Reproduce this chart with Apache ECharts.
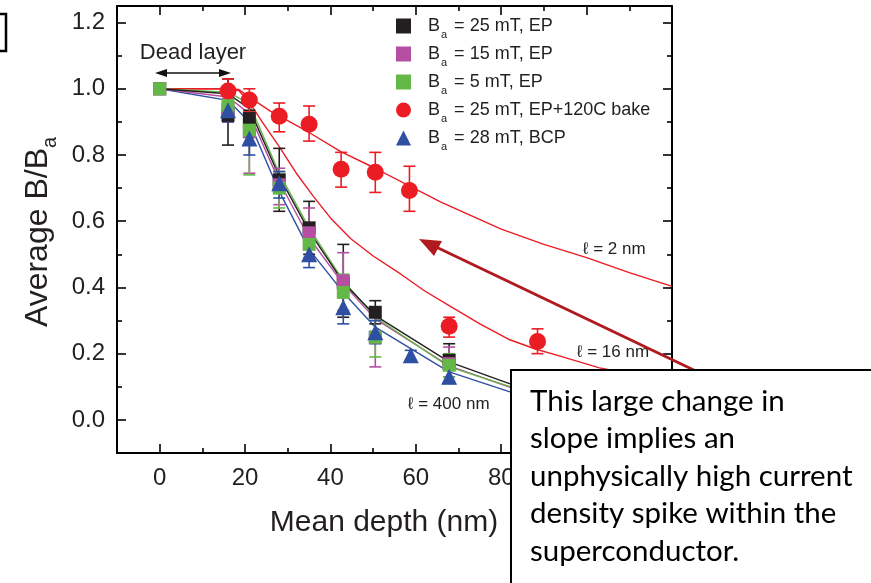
<!DOCTYPE html>
<html><head><meta charset="utf-8">
<script src="https://cdn.jsdelivr.net/npm/echarts@6/dist/echarts.min.js"></script>
<style>html,body{margin:0;padding:0;background:#fff}#c{width:871px;height:583px}</style>
</head><body><div id="c"></div>
<script>
// ---- axes ----
const xMajorTicks = [0, 20, 40, 60, 80, 100, 120];
const xMinorTicks = [10, 30, 50, 70, 90, 110];
const yMajorTicks = [0, 0.2, 0.4, 0.6, 0.8, 1.0, 1.2];
const yMinorTicks = [0.1, 0.3, 0.5, 0.7, 0.9, 1.1];

// ---- measured data ----
const depthEP = [0, 16, 21, 28, 35, 43, 50.5, 67.8];
const ep25 = [1.0, 0.92, 0.91, 0.725, 0.58, 0.415, 0.325, 0.18];
const ep25Lo = [null, 0.83, 0.885, 0.63, 0.50, 0.31, 0.29, 0.15];
const ep25Hi = [null, 1.03, 0.935, 0.82, 0.66, 0.53, 0.36, 0.23];

const ep15 = [1.0, 0.94, 0.87, 0.71, 0.565, 0.42, 0.25, 0.17];
const ep15Lo = [null, 0.90, 0.745, 0.65, 0.49, 0.33, 0.16, 0.13];
const ep15Hi = [null, 0.97, 0.93, 0.76, 0.64, 0.505, 0.31, 0.22];

const ep5 = [1.0, 0.95, 0.875, 0.70, 0.53, 0.385, 0.25, 0.165];
const ep5Lo = [null, 0.91, 0.74, 0.64, 0.48, 0.33, 0.19, 0.13];
const ep5Hi = [null, 0.98, 0.93, 0.75, 0.58, 0.44, 0.30, 0.20];

const depthBCP = [16, 21, 28, 35, 43, 50.5, 58.8, 67.8];
const bcp28 = [0.935, 0.85, 0.715, 0.50, 0.34, 0.265, 0.195, 0.13];
const bcp28Lo = [0.90, 0.80, 0.67, 0.46, 0.29, 0.23, 0.18, 0.11];
const bcp28Hi = [0.96, 0.89, 0.75, 0.54, 0.38, 0.30, 0.21, 0.15];

const depthBake = [16, 21, 28, 35, 42.5, 50.5, 58.5, 67.8, 88.5];
const bake25 = [0.993, 0.966, 0.917, 0.893, 0.757, 0.748, 0.693, 0.283, 0.237];
const bake25Lo = [0.96, 0.93, 0.87, 0.842, 0.703, 0.687, 0.63, 0.25, 0.20];
const bake25Hi = [1.03, 1.0, 0.957, 0.948, 0.808, 0.808, 0.766, 0.31, 0.275];

// ---- model curves ----
const fitX = [0, 16, 21, 28, 35, 43, 50.5, 67.8, 82.4, 95];
const fit25EP = [1.0, 0.985, 0.94, 0.735, 0.57, 0.415, 0.315, 0.175, 0.107, 0.07];
const fit15EP = [1.0, 0.975, 0.925, 0.72, 0.55, 0.41, 0.305, 0.163, 0.097, 0.065];
const fit5EP = [1.0, 0.99, 0.955, 0.745, 0.58, 0.42, 0.31, 0.16, 0.099, 0.066];
const fitBCP = [1.0, 0.965, 0.9, 0.69, 0.515, 0.385, 0.28, 0.145, 0.083, 0.055];

const fitL2X = [0, 16, 18.5, 21, 26, 35, 42.4, 50, 58, 66, 80, 90, 100, 110, 120];
const fitL2 = [1, 1, 0.998, 0.975, 0.932, 0.868, 0.81, 0.763, 0.71, 0.657, 0.576, 0.53, 0.49, 0.445, 0.403];
const fitL16X = [0, 16, 18.5, 21, 24, 28, 32, 36, 40, 44.7, 50, 56.5, 62, 67.8, 75, 82, 88, 94, 103, 110, 120];
const fitL16 = [1, 1, 0.995, 0.96, 0.9, 0.825, 0.745, 0.675, 0.61, 0.548, 0.495, 0.44, 0.39, 0.345, 0.29, 0.242, 0.214, 0.192, 0.157, 0.14, 0.12];

const legendNames = ['ep25', 'ep15', 'ep5', 'bake', 'bcp'];
const legendLabels = {
  ep25: '{m|B}{s|a}{m| = 25 mT, EP}',
  ep15: '{m|B}{s|a}{m| = 15 mT, EP}',
  ep5: '{m|B}{s|a}{m| = 5 mT, EP}',
  bake: '{m|B}{s|a}{m| = 25 mT, EP+120C bake}',
  bcp: '{m|B}{s|a}{m| = 28 mT, BCP}'
};

const C = {black: '#231f20', magenta: '#b64ea2', green: '#64b848', red: '#ec1c24', blue: '#2f4fa3', dark: '#b01a1f'};
const FONT = 'Liberation Sans, Arial, sans-serif';

const zip = (xs, ys) => xs.map((x, i) => [x, ys[i]]);
const zipErr = (xs, lo, hi) => xs.map((x, i) => [x, lo[i], hi[i]]).filter(d => d[1] != null);

function errRender(color) {
  return function (params, api) {
    const x = api.value(0), lo = api.value(1), hi = api.value(2);
    const a = api.coord([x, hi]), b = api.coord([x, lo]);
    const w = 6, st = {stroke: color, lineWidth: 1.6};
    return {type: 'group', children: [
      {type: 'line', shape: {x1: a[0], y1: a[1], x2: b[0], y2: b[1]}, style: st},
      {type: 'line', shape: {x1: a[0] - w, y1: a[1], x2: a[0] + w, y2: a[1]}, style: st},
      {type: 'line', shape: {x1: b[0] - w, y1: b[1], x2: b[0] + w, y2: b[1]}, style: st}
    ]};
  };
}
function errSeries(xs, lo, hi, color) {
  return {type: 'custom', renderItem: errRender(color), data: zipErr(xs, lo, hi),
    encode: {x: 0, y: [1, 2]}, silent: true, z: 3};
}
function fitSeries(xs, ys, color) {
  return {type: 'line', data: zip(xs, ys), showSymbol: false, symbol: 'none', smooth: false,
    lineStyle: {color: color, width: 1.4}, silent: true, z: 2};
}
function scat(name, xs, ys, symbol, size, color) {
  return {type: 'scatter', name: name, data: zip(xs, ys), symbol: symbol, symbolSize: size,
    itemStyle: {color: color, opacity: 1}, z: 4};
}
function xAx(pos, ticks, len, showLine, labels) {
  return {type: 'value', position: pos, min: -10, max: 120, gridIndex: 0,
    axisLine: {show: showLine, onZero: false, lineStyle: {color: '#000', width: 2}},
    axisTick: {show: true, inside: true, length: len, customValues: ticks, lineStyle: {color: '#000', width: 1.6}},
    axisLabel: labels ? {show: true, customValues: ticks, fontSize: 24, fontFamily: FONT, color: C.black, margin: 13} : {show: false},
    splitLine: {show: false}};
}
function yAx(pos, ticks, len, showLine, labels) {
  return {type: 'value', position: pos, min: -0.1, max: 1.25, gridIndex: 0,
    axisLine: {show: showLine, onZero: false, lineStyle: {color: '#000', width: 2}},
    axisTick: {show: true, inside: true, length: len, customValues: ticks, lineStyle: {color: '#000', width: 1.6}},
    axisLabel: labels ? {show: true, customValues: ticks, fontSize: 24, fontFamily: FONT, color: C.black, margin: 12,
      formatter: v => Number(v).toFixed(1)} : {show: false},
    splitLine: {show: false}};
}

const chart = echarts.init(document.getElementById('c'), null, {renderer: 'canvas'});
const txt = (x, y, text, size, align) => ({type: 'text', x: x, y: y, z: 100,
  style: {text: text, fontSize: size, fontFamily: FONT, fill: C.black, align: align || 'left', verticalAlign: 'middle'}});

const boxFont = 'Lato, "Open Sans", sans-serif';
const boxLines = ['This large change in', 'slope implies an', 'unphysically high current', 'density spike within the', 'superconductor.'];

chart.setOption({
  animation: false,
  backgroundColor: '#fff',
  grid: {left: 117, top: 6, width: 555, height: 447, containLabel: false},
  xAxis: [xAx('bottom', xMajorTicks, 9, true, true), xAx('bottom', xMinorTicks, 5, false, false),
          xAx('top', xMajorTicks, 9, true, false), xAx('top', xMinorTicks, 5, false, false)],
  yAxis: [yAx('left', yMajorTicks, 9, true, true), yAx('left', yMinorTicks, 5, false, false),
          yAx('right', yMajorTicks, 9, true, false), yAx('right', yMinorTicks, 5, false, false)],
  legend: {orient: 'vertical', left: 391, top: 12, itemWidth: 15, itemHeight: 15, itemGap: 5, selectedMode: false,
    data: legendNames, formatter: n => legendLabels[n],
    textStyle: {padding: [0, 0, 0, 12], rich: {
      m: {fontSize: 18, lineHeight: 28, fontFamily: FONT, color: C.black},
      s: {fontSize: 11, lineHeight: 11, verticalAlign: 'bottom', padding: [0, 2, 0, 1], fontFamily: FONT, color: C.black}}}},
  series: [
    fitSeries(fitL2X, fitL2, C.red),
    fitSeries(fitL16X, fitL16, C.red),
    fitSeries(fitX, fitBCP, C.blue),
    fitSeries(fitX, fit15EP, C.magenta),
    fitSeries(fitX, fit5EP, C.green),
    fitSeries(fitX, fit25EP, C.black),
    errSeries(depthEP, ep25Lo, ep25Hi, C.black),
    errSeries(depthEP, ep15Lo, ep15Hi, C.magenta),
    errSeries(depthEP, ep5Lo, ep5Hi, C.green),
    errSeries(depthBCP, bcp28Lo, bcp28Hi, C.blue),
    errSeries(depthBake, bake25Lo, bake25Hi, C.red),
    scat('ep25', depthEP, ep25, 'rect', 13, C.black),
    scat('ep15', depthEP, ep15, 'rect', 13, C.magenta),
    scat('ep5', depthEP, ep5, 'rect', 13, C.green),
    scat('bcp', depthBCP, bcp28, 'triangle', 16, C.blue),
    scat('bake', depthBake, bake25, 'circle', 17, C.red)
  ],
  graphic: [
    {type: 'polyline', z: 100, shape: {points: [[0, 14], [6, 14], [6, 51], [0, 51]]}, style: {stroke: '#000', lineWidth: 2.5, fill: null}},
    {type: 'text', x: 38, y: 232, rotation: Math.PI / 2, z: 100,
      style: {text: '{m|Average B/B}{s|a}', align: 'center', verticalAlign: 'middle',
        rich: {m: {fontSize: 32, lineHeight: 44, fontFamily: FONT, fill: C.black},
               s: {fontSize: 20, lineHeight: 20, verticalAlign: 'bottom', fontFamily: FONT, fill: C.black}}}},
    txt(384, 523, 'Mean depth (nm)', 30, 'center'),
    txt(193, 53, 'Dead layer', 22, 'center'),
    {type: 'line', z: 100, shape: {x1: 163, y1: 73, x2: 222, y2: 73}, style: {stroke: '#111', lineWidth: 1.6}},
    {type: 'polygon', z: 100, shape: {points: [[155, 73], [167, 69], [167, 77]]}, style: {fill: '#111'}},
    {type: 'polygon', z: 100, shape: {points: [[231, 73], [219, 69], [219, 77]]}, style: {fill: '#111'}},
    txt(583, 249, 'ℓ = 2 nm', 17),
    txt(577, 352, 'ℓ = 16 nm', 17),
    txt(408, 404, 'ℓ = 400 nm', 17),
    {type: 'line', z: 101, shape: {x1: 700, y1: 373, x2: 434, y2: 246}, style: {stroke: C.dark, lineWidth: 3}},
    {type: 'polygon', z: 101, shape: {points: [[419, 239], [442, 241], [434, 256]]}, style: {fill: C.dark}},
    {type: 'rect', z: 110, shape: {x: 511, y: 370, width: 380, height: 230}, style: {fill: '#fff', stroke: '#000', lineWidth: 2}},
    ...boxLines.map((t, i) => ({type: 'text', z: 111, x: 530, y: 401 + i * 37.6,
      style: {text: t, fontSize: 29.5, fontFamily: boxFont, fill: '#000', align: 'left', verticalAlign: 'middle'}}))
  ]
});
</script></body></html>
